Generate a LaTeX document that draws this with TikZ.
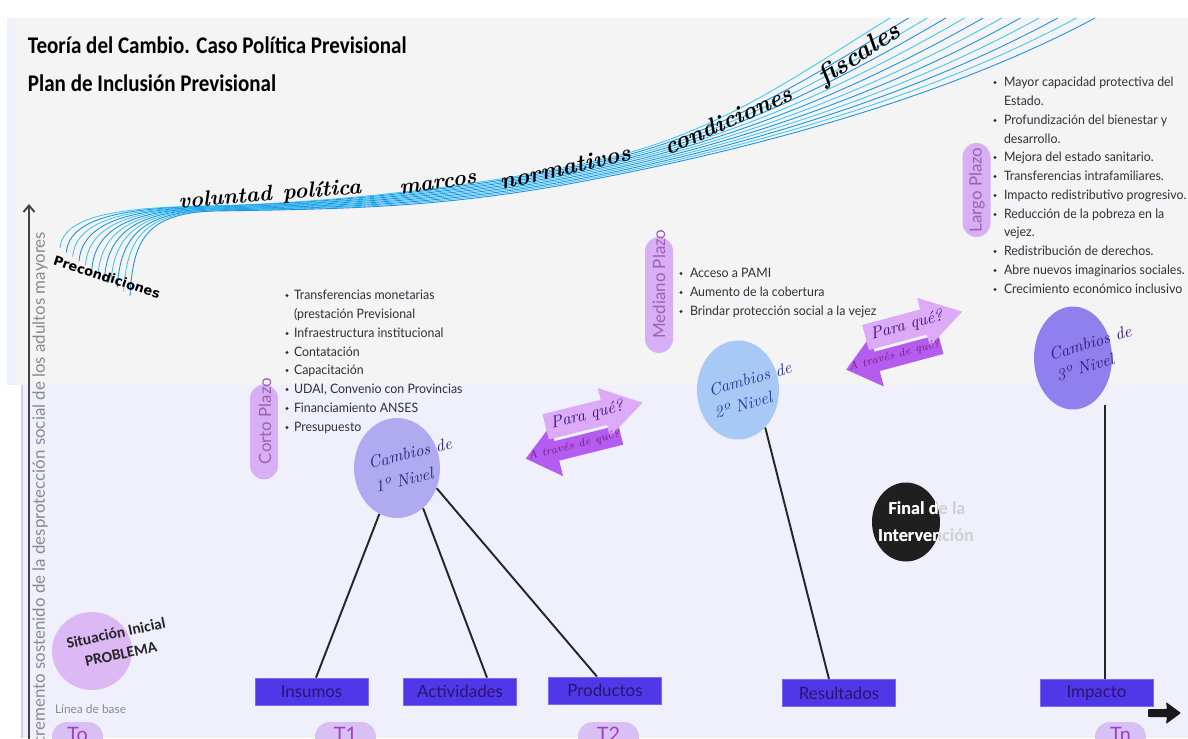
\documentclass[tikz,border=0pt]{standalone}
\usepackage{fontspec}
\newfontfamily\lato{Lato}
\newfontfamily\carl{Carlito}
\newfontfamily\djv{DejaVu Sans}
\usetikzlibrary{shapes.geometric,calc,arrows.meta}
\definecolor{bggray}{HTML}{F4F4F4}
\definecolor{bgstrip}{HTML}{EEF0FB}
\definecolor{bglav}{HTML}{EFF0FC}
\definecolor{lavline}{HTML}{CDD0F2}
\definecolor{pill}{HTML}{D8AEF4}
\definecolor{pilltxt}{HTML}{9A62B0}
\definecolor{boxfill}{HTML}{5038E8}
\definecolor{boxedge}{HTML}{7A6AF0}
\definecolor{boxtxt}{HTML}{2A1470}
\definecolor{cone}{HTML}{B0AAF0}
\definecolor{ctwo}{HTML}{A8C8F5}
\definecolor{cthree}{HTML}{8F80EE}
\definecolor{arlight}{HTML}{DCAAF7}
\definecolor{ardark}{HTML}{B45CF0}
\definecolor{navytxt}{HTML}{2A2A7A}
\definecolor{bluetxt}{HTML}{2A3A9A}
\definecolor{purptxt}{HTML}{3A1A7A}
\definecolor{magtxt}{HTML}{7A1A7A}
\definecolor{blob}{HTML}{DCB8F4}
\definecolor{streamA}{HTML}{1E90E8}
\definecolor{streamB}{HTML}{40C8F0}
\definecolor{bultxt}{HTML}{30303A}
\definecolor{axisc}{HTML}{444444}
\definecolor{axtxt}{HTML}{8A8A8A}
\definecolor{tpillc}{HTML}{D8C0F4}
\definecolor{ttxt}{HTML}{A040C0}
\definecolor{fingray}{HTML}{D0D0D0}
\tikzset{
  lbl/.style={inner sep=0pt, outer sep=0pt},
  bul/.style={lbl, anchor=base west, font=\lato\fontsize{7.4}{8}\selectfont, text=bultxt, xscale=0.95},
  pillst/.style={fill=pill, rounded corners=0.28cm, inner sep=0pt, minimum width=0.56cm},
  pilltext/.style={lbl, rotate=90, font=\lato\fontsize{9.6}{10}\selectfont, text=pilltxt},
  bx/.style={fill=boxfill, draw=boxedge, line width=0.4pt, inner sep=0pt, minimum width=2.26cm, minimum height=0.54cm, font=\lato\fontsize{9.6}{10}\selectfont, text=boxtxt},
  circ/.style={ellipse, inner sep=0pt},
  hand/.style={lbl, font=\rmfamily\itshape\fontsize{9.6}{11}\selectfont},
  script/.style={lbl, font=\rmfamily\bfseries\itshape\fontsize{12.5}{13}\selectfont, text=black},
  link/.style={line width=1.1pt, color=black!85},
  tpill/.style={fill=tpillc, rounded corners=0.3cm, minimum height=0.6cm, inner sep=0pt},
  ttext/.style={lbl, anchor=base, font=\lato\fontsize{11.3}{12}\selectfont, text=ttxt},
  fintext/.style={lbl, font=\carl\bfseries\fontsize{10.4}{11}\selectfont},
  sittext/.style={lbl, rotate=12, font=\carl\bfseries\fontsize{8.8}{9}\selectfont, text=black!85},
  stream/.style={line width=0.5pt}
}
\begin{document}
\begin{tikzpicture}[x=0.02cm,y=-0.02cm]
\useasboundingbox (0,0) rectangle (1188,738);
\fill[white] (0,0) rectangle (1188,738);
\fill[bggray] (15,18) rectangle (1188,385);
\fill[bgstrip] (7,18) rectangle (15,385);
\fill[bglav] (22,385) rectangle (1188,738);
\draw[lavline, line width=0.6pt] (22,385) -- (22,738);

% stream lines
\foreach \i in {0,...,11}{
  \pgfmathsetmacro\t{\i/11}
  \pgfmathsetmacro\sx{60+70*\t}
  \pgfmathsetmacro\sy{248+48*\t}
  \pgfmathsetmacro\bx{200+15*\t}
  \pgfmathsetmacro\by{206+5*\t}
  \pgfmathsetmacro\my{160+18*\t}
  \pgfmathsetmacro\ex{890+205*\t}
  \ifodd\i \def\sc{streamA}\else\def\sc{streamB}\fi
  \draw[stream, color=\sc] (\sx,\sy) .. controls ({\sx+3},{\sy-35-20*\t}) and ({\bx-70},{\by+2}) .. (\bx,\by)
     .. controls ({\bx+130},{\by-2}) and ({490-40*\t},{\my+25+5*\t}) .. (600,\my)
     .. controls ({720+50*\t},{\my-27-6*\t}) and ({\ex-90-50*\t},{73+20*\t}) .. (\ex,18);
}

% script words
\node[script, rotate=5] (w1) at (225,197) {voluntad};
\node[script, rotate=4] (w2) at (322,191) {política};
\node[script, rotate=8] (w3) at (438,184) {marcos};
\node[script, rotate=13, font=\rmfamily\bfseries\itshape\fontsize{13.5}{14}\selectfont] (w4) at (565,167) {normativos};
\node[script, rotate=24, font=\rmfamily\bfseries\itshape\fontsize{13.5}{14}\selectfont] (w5) at (728,120) {condiciones};
\node[script, rotate=33, font=\rmfamily\bfseries\itshape\fontsize{15}{16}\selectfont] (w6) at (860,55) {fiscales};
\node[lbl, rotate=-18, font=\djv\bfseries\fontsize{7.4}{8}\selectfont] (pre) at (107,277) {Precondiciones};

% title
\node[lbl, anchor=base west, font=\carl\bfseries\fontsize{13.6}{14}\selectfont, xscale=0.88] (t1) at (28,53) {Teoría del Cambio. Caso Política Previsional};
\node[lbl, anchor=base west, font=\carl\bfseries\fontsize{13.6}{14}\selectfont, xscale=0.88] (t2) at (28,91) {Plan de Inclusión Previsional};

% axis
\coordinate (axb) at (29,740);
\coordinate (axt) at (29,204);
\draw[axisc, line width=1.1pt, -{Straight Barb[length=1.3mm,width=2.2mm]}] (axb) -- (axt);
\node[lbl, rotate=90, anchor=east, font=\lato\fontsize{9.6}{10}\selectfont, text=axtxt] (axl) at (40,232) {Incremento sostenido de la desprotección social de los adultos mayores};

% pills
\node[pillst, minimum height=1.9cm] (corto) at (264,432) {};
\node[pilltext] (cortot) at (265,421) {Corto Plazo};
\node[pillst, minimum height=2.32cm] (med) at (659,295) {};
\node[pilltext] (medt) at (659,284) {Mediano Plazo};
\node[pillst, minimum height=1.88cm] (lar) at (976.5,190) {};
\node[pilltext] (lart) at (977,190) {Largo Plazo};

% lists
\foreach \yy/\bb/\tt [count=\k] in {299/1/{Transferencias monetarias}, 318/0/{(prestación Previsional}, 337/1/{Infraestructura institucional}, 356/1/{Contatación}, 374/1/{Capacitación}, 393/1/{UDAI, Convenio con Provincias}, 412/1/{Financiamiento ANSES}, 431/1/{Presupuesto}}{
  \node[bul] (La\k) at (294,\yy) {\tt};
  \ifnum\bb=1 \fill[bultxt] (287,{\yy-3.5}) circle[radius=0.032cm]; \fi
}
\foreach \yy/\bb/\tt [count=\k] in {277/1/{Acceso a PAMI}, 296/1/{Aumento de la cobertura}, 315/1/{Brindar protección social a la vejez}}{
  \node[bul] (Lb\k) at (690,\yy) {\tt};
  \ifnum\bb=1 \fill[bultxt] (681,{\yy-3.5}) circle[radius=0.032cm]; \fi
}
\foreach \yy/\bb/\tt [count=\k] in {86/1/{Mayor capacidad protectiva del}, 105/0/{Estado.}, 124/1/{Profundización del bienestar y}, 143/0/{desarrollo.}, 161/1/{Mejora del estado sanitario.}, 180/1/{Transferencias intrafamiliares.}, 199/1/{Impacto redistributivo progresivo.}, 218/1/{Reducción de la pobreza en la}, 236/0/{vejez.}, 255/1/{Redistribución de derechos.}, 274/1/{Abre nuevos imaginarios sociales.}, 293/1/{Crecimiento económico inclusivo}}{
  \node[bul] (Lc\k) at (1004,\yy) {\tt};
  \ifnum\bb=1 \fill[bultxt] (995,{\yy-3.5}) circle[radius=0.032cm]; \fi
}

% circles
\node[circ, fill=cone, minimum width=1.72cm, minimum height=2.0cm] (c1) at (397,468) {};
\node[hand, rotate=14, text=navytxt] (c1a) at (410,453) {Cambios de};
\node[hand, rotate=14, text=navytxt] (c1b) at (404,480) {1º Nivel};
\node[circ, fill=ctwo, minimum width=1.64cm, minimum height=1.98cm] (c2) at (738,390) {};
\node[hand, rotate=16, text=bluetxt] (c2a) at (750,379) {Cambios de};
\node[hand, rotate=16, text=bluetxt] (c2b) at (743,405) {2º Nivel};
\node[circ, fill=cthree, minimum width=1.56cm, minimum height=2.06cm] (c3) at (1073,358) {};
\node[hand, rotate=17, text=purptxt] (c3a) at (1090,343) {Cambios de};
\node[hand, rotate=17, text=purptxt] (c3b) at (1085,367) {3º Nivel};

% final
\node[circ, fill=black!88, minimum width=1.36cm, minimum height=1.58cm] (fin) at (906,522) {};
\node[fintext, text=fingray] (fa) at (927,508) {Final de la};
\node[fintext, text=fingray] (fb) at (926,535) {Intervención};
\begin{scope}
  \clip (906,522) ellipse [x radius=34, y radius=39.5];
  \node[fintext, text=white] (fa2) at (927,508) {Final de la};
  \node[fintext, text=white] (fb2) at (926,535) {Intervención};
\end{scope}

% situacion
\node[circ, fill=blob, minimum width=1.6cm, minimum height=1.56cm] (sit) at (92,651) {};
\node[sittext] (sita) at (116,633) {Situación Inicial};
\node[sittext] (sitb) at (121,654) {PROBLEMA};

% double arrows
\foreach \cx/\cy/\rr/\n in {583/432/14/1, 903/342/15/2}{
  \begin{scope}[shift={(\cx,\cy)}, rotate=\rr]
    \fill[ardark] (36,2) -- (-30,2) -- (-30,-14) -- (-62,12) -- (-30,38) -- (-30,22) -- (36,22) -- cycle;
    \fill[arlight] (-35,-27) -- (25,-27) -- (25,-39) -- (65,-14) -- (25,11) -- (25,-1) -- (-35,-1) -- cycle;
    \node[lbl, rotate=\rr, font=\rmfamily\itshape\fontsize{9.6}{10}\selectfont, text=purptxt] (pq\n) at (8,-15) {Para qué?};
    \node[lbl, rotate=\rr, font=\rmfamily\itshape\fontsize{6.2}{7}\selectfont, text=magtxt] (at\n) at (-12,11) {A través de qué?};
  \end{scope}
}

% boxes
\node[bx] (ins) at (311.5,691.5) {Insumos};
\node[bx] (act) at (460,691.5) {Actividades};
\node[bx] (prod) at (605,690.5) {Productos};
\node[bx] (res) at (839,693) {Resultados};
\node[bx] (imp) at (1096.5,693) {Impacto};

% links
\draw[link] (c1.249) -- ($(ins.north)+(4.5,0)$);
\draw[link] (c1.-57) -- ($(act.north)+(27,0)$);
\draw[link] (c1.-27) -- ($(prod.north)+(-8,0)$);
\draw[link] (c2.-54) -- ($(res.north)+(-10,0)$);
\coordinate (c3b) at (1105,405);
\draw[link] (c3b) -- (c3b |- imp.north);

% baseline & T pills
\node[lbl, anchor=base west, font=\lato\fontsize{6.8}{7}\selectfont, text=axtxt] (lb) at (55,713) {Línea de base};
\node[tpill, minimum width=1.02cm] (p0) at (77.5,737) {};
\node[ttext] (p0t) at (77.5,741) {To};
\node[tpill, minimum width=1.22cm] (p1) at (345.5,737) {};
\node[ttext] (p1t) at (345.5,741) {T1};
\node[tpill, minimum width=1.22cm] (p2) at (608.5,737) {};
\node[ttext] (p2t) at (608.5,741) {T2};
\node[tpill, minimum width=1.02cm] (pn) at (1120.5,737) {};
\node[ttext] (pnt) at (1120.5,741) {Tn};

% black arrow
\fill[black!90, rounded corners=0.5pt] (1148,709) -- (1167,709) -- (1166,702) -- (1181,713) -- (1166,724) -- (1167,717) -- (1148,717) -- cycle;
\end{tikzpicture}
\end{document}
